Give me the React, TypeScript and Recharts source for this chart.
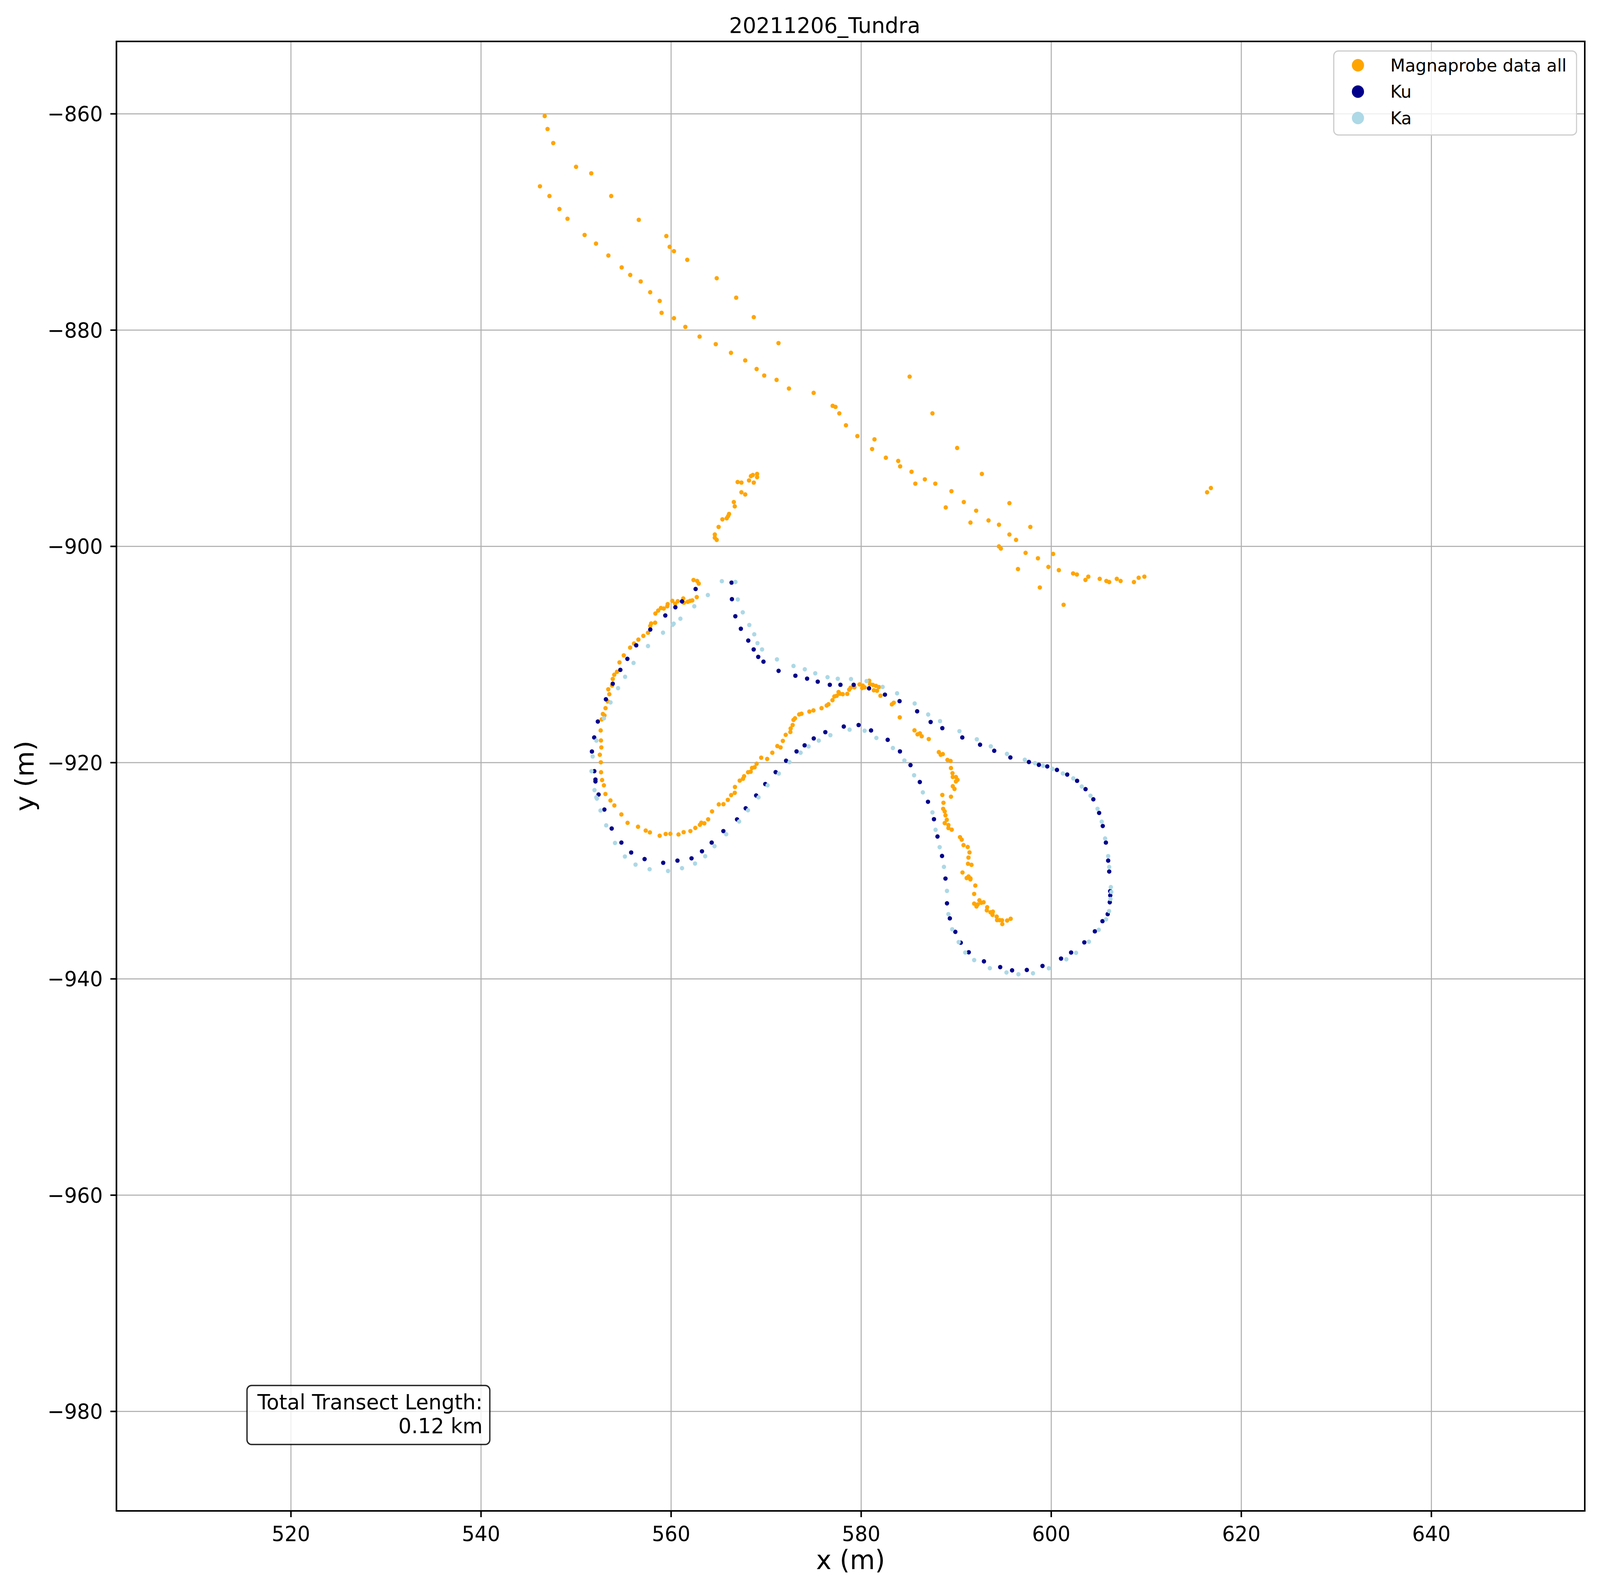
import React from "react";
import {
  CartesianGrid,
  Legend,
  ReferenceArea,
  Scatter,
  ScatterChart,
  XAxis,
  YAxis,
} from "recharts";

// positions, in metres
const MAGNAPROBE: number[][] = [
  // northern pair of lines
  [546.7, -860.2], [547.0, -861.4], [547.6, -862.7], [550.0, -864.9], [551.6, -865.5], [553.7, -867.6],
  [556.6, -869.8], [559.5, -871.3], [559.85, -872.3], [560.3, -872.7], [561.7, -873.5], [564.8, -875.2],
  [566.85, -877.0], [568.7, -878.8], [571.3, -881.2], [585.1, -884.3], [587.5, -887.7], [590.1, -890.9],
  [592.7, -893.3], [595.6, -896.0], [597.8, -898.2], [600.2, -900.7], [601.3, -905.4],
  [546.2, -866.7], [547.2, -867.6], [548.25, -868.8], [549.1, -869.7], [550.9, -871.2], [552.1, -872.0],
  [553.4, -873.1], [554.8, -874.2], [555.7, -874.9], [556.8, -875.5], [557.8, -876.5], [558.8, -877.3],
  [559.0, -878.4], [560.3, -878.9], [561.5, -879.7], [563.0, -880.6], [564.7, -881.3], [566.3, -882.1],
  [567.8, -882.8], [569.0, -883.6], [569.8, -884.2], [571.1, -884.6], [572.4, -885.4], [575.0, -885.8],
  [577.0, -887.0], [577.3, -887.1], [577.7, -887.7], [578.4, -888.8], [579.6, -889.8], [581.4, -890.1],
  [581.15, -891.0], [582.6, -891.8], [583.9, -892.1], [584.1, -892.6], [585.3, -893.1], [585.7, -894.2],
  [586.7, -893.8], [587.8, -894.2], [589.5, -894.9], [588.9, -896.4], [590.8, -895.9], [592.1, -896.7],
  [591.5, -897.8], [593.4, -897.6], [594.5, -898.0], [595.6, -898.9], [596.3, -899.4], [594.5, -900.0],
  [594.7, -900.2], [596.5, -902.1], [597.3, -900.6], [598.6, -901.1], [598.8, -903.8], [599.7, -901.9],
  [600.8, -902.2], [602.3, -902.5], [602.7, -902.6], [603.6, -903.1], [603.9, -902.8], [605.1, -903.0],
  [605.8, -903.2], [606.1, -903.3], [606.9, -903.0], [607.3, -903.2], [608.7, -903.3], [609.2, -902.9],
  [609.8, -902.8], [616.4, -895.0], [616.8, -894.6],
  // short stretch north of the loop
  [564.6, -898.9], [564.6, -899.2], [564.8, -899.4], [565.0, -898.2], [565.4, -897.5], [565.85, -897.4],
  [566.0, -897.2], [566.1, -897.0], [566.6, -895.9], [566.7, -896.3], [567.4, -895.0], [567.8, -895.2],
  [567.0, -894.05], [567.4, -894.1], [568.2, -893.9], [568.7, -894.1], [568.4, -893.5], [568.6, -893.4],
  [569.05, -893.3], [569.05, -893.6],
  // loop and tail
  [562.36, -903.11], [562.74, -903.2], [562.91, -903.44], [562.7, -904.69], [562.23, -905.0], [562.0, -905.04],
  [561.76, -905.12], [561.34, -905.21], [561.28, -904.82], [560.7, -905.07], [560.43, -905.3], [560.13, -905.04],
  [559.64, -905.34], [559.6, -905.54], [559.23, -905.75], [558.93, -905.7], [558.64, -905.94], [558.35, -906.21],
  [558.32, -907.06], [557.9, -907.13], [557.81, -907.36], [557.57, -907.99], [557.08, -908.28], [556.56, -908.62],
  [556.1, -908.98], [555.69, -909.36], [555.02, -910.08], [554.57, -910.73], [554.3, -911.6], [554.02, -911.87],
  [553.86, -912.26], [553.79, -912.87], [553.39, -913.22], [553.5, -913.67], [553.33, -914.34], [553.1, -914.96],
  [552.82, -915.5], [552.99, -915.64], [552.7, -916.0], [552.59, -917.02], [552.62, -917.95], [552.66, -918.59],
  [552.5, -919.27], [552.61, -919.97], [552.63, -920.89], [552.74, -921.61], [552.93, -922.1], [553.09, -922.9],
  [553.62, -923.5], [554.03, -923.96], [554.77, -924.79], [555.42, -925.57], [556.52, -925.93], [557.33, -926.28],
  [557.77, -926.45], [558.8, -926.76], [559.43, -926.6], [559.92, -926.58], [560.78, -926.64], [561.32, -926.43],
  [562.03, -926.33], [562.55, -926.04], [563.03, -925.75], [563.18, -925.56], [563.5, -925.61], [563.9, -925.24],
  [564.31, -924.51], [565.02, -923.86], [565.51, -923.84], [565.97, -923.44], [566.32, -923.0], [566.7, -922.79],
  [566.72, -922.25], [567.22, -921.66], [567.57, -921.49], [567.68, -921.26], [568.1, -920.89], [568.37, -920.84],
  [568.52, -920.49], [568.79, -920.43], [569.0, -920.1], [569.48, -919.54], [570.11, -919.66], [570.65, -919.08],
  [571.18, -918.47], [571.52, -918.59], [571.76, -917.99], [572.06, -917.43], [572.55, -917.17], [572.58, -916.84],
  [572.79, -916.52], [572.88, -916.05], [573.04, -915.9], [573.48, -915.54], [573.72, -915.48], [574.55, -915.28],
  [574.98, -915.17], [575.83, -914.96], [576.37, -914.72], [576.56, -914.6], [576.98, -914.22], [577.18, -913.88],
  [577.42, -913.82], [577.62, -913.47], [577.77, -913.63], [578.06, -913.67], [578.54, -913.64], [578.74, -913.25],
  [578.89, -913.07], [579.29, -913.04], [579.83, -912.77], [580.16, -912.87], [580.11, -913.1], [580.36, -913.04],
  [580.85, -912.42], [580.93, -912.74], [581.23, -912.81], [581.56, -912.9], [581.87, -913.01], [581.33, -913.31],
  [581.67, -913.35], [582.03, -913.81], [583.23, -914.61], [583.43, -914.46], [584.06, -915.81], [585.61, -917.01],
  [585.93, -917.38], [586.18, -917.29], [586.37, -917.56], [587.11, -917.82], [588.17, -919.03], [588.37, -919.27],
  [588.59, -919.21], [589.08, -919.75], [589.41, -919.85], [589.45, -920.5], [589.61, -920.98], [589.64, -921.32],
  [589.97, -921.33], [590.14, -921.59], [589.97, -921.74], [589.64, -922.18], [589.82, -922.43], [588.54, -922.99],
  [589.45, -923.15], [588.66, -923.71], [588.63, -924.27], [588.79, -924.51], [588.87, -924.87], [589.01, -925.29],
  [588.79, -925.59], [589.18, -925.77], [589.18, -926.05], [589.53, -926.2], [590.4, -926.89], [590.58, -927.12],
  [590.77, -927.63], [591.21, -927.8], [591.4, -928.3], [591.29, -928.78], [591.24, -929.35], [591.61, -929.45],
  [590.66, -930.16], [591.3, -930.53], [591.1, -930.67], [591.5, -930.71], [591.49, -930.8], [592.01, -931.37],
  [591.89, -932.14], [592.44, -932.73], [592.64, -932.96], [592.88, -932.91], [591.89, -933.04], [592.26, -933.12],
  [592.13, -933.3], [593.26, -933.37], [593.22, -933.66], [593.61, -933.84], [593.86, -933.78], [593.82, -934.08],
  [594.26, -934.24], [594.3, -934.56], [594.57, -934.56], [594.82, -934.58], [594.85, -934.93], [595.36, -934.6],
  [595.73, -934.44],
];

const KU: number[][] = [
  [562.58, -903.94], [561.15, -905.09], [560.45, -905.63], [559.39, -906.39], [557.81, -907.69], [556.33, -909.15],
  [555.4, -910.4], [554.66, -911.42], [553.86, -912.7], [553.14, -914.14], [552.29, -916.2], [551.91, -917.67],
  [551.67, -918.97], [551.92, -920.79], [552.04, -921.56], [552.04, -921.74], [552.37, -922.95], [552.98, -924.34],
  [553.75, -926.09], [554.77, -927.39], [555.8, -928.31], [557.21, -928.92], [559.17, -929.26], [560.67, -929.06],
  [562.15, -928.85], [563.25, -928.2], [564.27, -927.39], [565.5, -926.33], [566.94, -925.25], [567.85, -924.22],
  [568.95, -923.04], [569.91, -921.98], [571.0, -920.88], [572.1, -919.82], [573.2, -918.96], [574.05, -918.4],
  [575.01, -917.76], [576.23, -917.18], [578.17, -916.66], [579.73, -916.52], [581.04, -917.02], [582.79, -917.89],
  [584.08, -918.96], [585.19, -920.23], [586.17, -921.79], [587.03, -923.62], [587.66, -925.23], [588.03, -926.83],
  [588.51, -928.63], [588.87, -930.72], [589.03, -933.01], [589.33, -934.4], [589.91, -935.65], [590.48, -936.65],
  [591.32, -937.54], [592.92, -938.38], [594.63, -938.91], [595.88, -939.21], [597.43, -939.17], [599.08, -938.8],
  [601.03, -938.12], [602.09, -937.56], [603.48, -936.62], [604.59, -935.6], [605.39, -934.66], [605.94, -934.01],
  [606.16, -932.91], [606.21, -932.28], [606.2, -931.88], [606.1, -930.07], [605.99, -929.06], [605.75, -927.39],
  [605.42, -925.86], [605.04, -924.65], [604.43, -923.39], [603.61, -922.45], [602.72, -921.68], [601.68, -921.1],
  [600.6, -920.67], [599.58, -920.35], [598.7, -920.2], [597.65, -919.94], [595.7, -919.52], [594.0, -918.9],
  [592.51, -918.34], [590.64, -917.67], [588.54, -916.81], [587.31, -916.24], [585.89, -915.25], [584.04, -914.31],
  [582.5, -913.71], [580.83, -913.13], [579.21, -912.8], [577.82, -912.8], [576.7, -912.8], [575.43, -912.51],
  [574.31, -912.23], [573.08, -911.96], [571.31, -911.51], [569.72, -910.66], [569.17, -910.22], [568.69, -909.53],
  [568.12, -908.71], [567.34, -907.62], [566.76, -906.46], [566.4, -904.88], [566.36, -903.35],
];

const KA: number[][] = [
  [565.34, -903.22], [563.87, -904.5], [562.44, -905.54], [560.98, -906.69], [560.27, -907.15], [560.17, -907.25],
  [559.15, -907.98], [557.57, -909.22], [556.05, -910.78], [555.16, -912.06], [554.42, -913.11], [553.63, -914.43],
  [552.93, -915.9], [552.14, -917.96], [551.75, -919.43], [551.62, -920.79], [551.94, -922.54], [552.13, -923.21],
  [552.19, -923.33], [552.57, -924.43], [553.17, -925.8], [554.1, -927.43], [555.14, -928.68], [556.26, -929.43],
  [557.74, -929.86], [559.68, -930.02], [561.15, -929.76], [562.52, -929.33], [563.59, -928.66], [564.57, -927.73],
  [565.8, -926.62], [567.16, -925.44], [568.09, -924.4], [569.2, -923.21], [570.15, -922.1], [571.34, -921.01],
  [572.46, -919.95], [573.63, -919.08], [574.47, -918.5], [575.54, -917.96], [576.76, -917.46], [578.78, -916.95],
  [580.36, -917.05], [581.6, -917.72], [583.34, -918.65], [584.55, -919.8], [585.57, -921.17], [586.49, -922.75],
  [587.5, -924.6], [587.83, -926.21], [588.26, -927.82], [588.71, -929.64], [589.03, -931.86], [589.18, -934.01],
  [589.58, -935.41], [590.26, -936.6], [590.95, -937.56], [591.89, -938.26], [593.54, -939.01], [595.29, -939.41],
  [596.55, -939.57], [598.08, -939.48], [599.75, -939.02], [601.59, -938.19], [602.61, -937.59], [603.97, -936.56],
  [605.0, -935.46], [605.77, -934.49], [606.09, -933.73], [606.23, -932.61], [606.32, -931.96], [606.27, -931.51],
  [606.1, -929.65], [605.99, -928.65], [605.67, -927.01], [605.31, -925.46], [604.87, -924.27], [604.13, -923.06],
  [603.21, -922.21], [602.32, -921.46], [601.22, -921.0], [600.13, -920.57], [599.14, -920.29], [598.29, -920.05],
  [597.22, -919.73], [595.34, -919.19], [593.64, -918.49], [592.17, -917.84], [590.34, -917.09], [588.3, -916.16],
  [587.05, -915.55], [585.63, -914.53], [583.78, -913.59], [582.26, -913.0], [580.57, -912.46], [578.93, -912.27],
  [577.54, -912.24], [576.46, -912.1], [575.17, -911.74], [574.07, -911.37], [572.88, -911.06], [571.14, -910.45],
  [569.57, -909.53], [569.09, -908.95], [568.75, -908.13], [568.23, -907.27], [567.54, -906.1], [567.02, -904.91],
  [566.77, -903.29],
];

const SERIES_NAMES = ["Magnaprobe data all", "Ku", "Ka"];
const X_TICKS = [520, 540, 560, 580, 600, 620, 640];
const Y_TICKS = [-980, -960, -940, -920, -900, -880, -860];
const X_DOMAIN = [501.64, 656.14];
const Y_DOMAIN = [-989.2, -853.3];

const W = 4204;
const H = 4072;
const FONT = "DejaVu Sans";
const DOT_R = 5.7;

const toPoints = (pts: number[][]) => pts.map(([x, y]) => ({ x, y }));
const minus = (v: number) => String(v).replace("-", "\u2212");

const dot = (color: string) => (props: any) =>
  <circle cx={props.cx} cy={props.cy} r={DOT_R} fill={color} />;

function LegendBox({ payload }: any) {
  const items = [...(payload || [])].sort(
    (a: any, b: any) => SERIES_NAMES.indexOf(a.value) - SERIES_NAMES.indexOf(b.value),
  );
  return (
    <svg width={641} height={218} style={{ display: "block" }}>
      <rect x={1.5} y={1.5} width={638} height={215} rx={12} fill="#fff" fillOpacity={0.8}
        stroke="#cccccc" strokeWidth={3} />
      {items.map((entry: any, i: number) => (
        <g key={entry.value}>
          <circle cx={65} cy={38 + 67.5 * i} r={16} fill={entry.color} />
          <text x={150} y={54 + 67.5 * i} fontSize={45} fontFamily={FONT} fill="#000">{entry.value}</text>
        </g>
      ))}
    </svg>
  );
}

export default function App() {
  // the browser viewport can be narrower than the figure: squeeze to fit
  const sx = typeof window !== "undefined" ? Math.min(1, window.innerWidth / W) : 1;
  const sy = typeof window !== "undefined" ? Math.min(1, window.innerHeight / H) : 1;
  return (
    <div style={{
      position: "absolute", left: 0, top: 0, width: W, height: H, background: "#fff",
      transform: `scale(${sx}, ${sy})`, transformOrigin: "0 0",
    }}>
      <ScatterChart width={W} height={H} margin={{ top: 106, right: 40, bottom: 0, left: 0 }}
        style={{ fontFamily: FONT }}>
        <CartesianGrid stroke="#b0b0b0" strokeWidth={2.7} />
        <XAxis type="number" dataKey="x" domain={X_DOMAIN} ticks={X_TICKS} allowDataOverflow height={205}
          tickSize={16} tickMargin={23} tick={{ fontSize: 53, fill: "#000", fontFamily: FONT }}
          axisLine={{ stroke: "#000", strokeWidth: 4 }} tickLine={{ stroke: "#000", strokeWidth: 4 }} />
        <YAxis type="number" dataKey="y" domain={Y_DOMAIN} ticks={Y_TICKS} allowDataOverflow width={306}
          tickSize={16} tickMargin={20} tickFormatter={minus}
          tick={{ fontSize: 53, fill: "#000", fontFamily: FONT }}
          axisLine={{ stroke: "#000", strokeWidth: 4 }} tickLine={{ stroke: "#000", strokeWidth: 4 }} />
        <Scatter name="Magnaprobe data all" data={toPoints(MAGNAPROBE)} fill="#FFA500"
          shape={dot("#FFA500")} isAnimationActive={false} />
        <Scatter name="Ku" data={toPoints(KU)} fill="#00008B" shape={dot("#00008B")} isAnimationActive={false} />
        <Scatter name="Ka" data={toPoints(KA)} fill="#ADD8E6" shape={dot("#ADD8E6")} isAnimationActive={false} />
        <ReferenceArea x1={X_DOMAIN[0]} x2={X_DOMAIN[1]} y1={Y_DOMAIN[0]} y2={Y_DOMAIN[1]} ifOverflow="visible"
          fill="none" fillOpacity={0} stroke="#000" strokeWidth={4} />
        <Legend layout="vertical" align="center" verticalAlign="middle"
          wrapperStyle={{ left: 3503, top: 129, width: 641, height: 218 }}
          content={(props: any) => <LegendBox payload={props.payload} />} />
      </ScatterChart>
      <svg width={W} height={H} style={{ position: "absolute", left: 0, top: 0, pointerEvents: "none" }}>
        <text x={2167} y={84} textAnchor="middle" fontSize={56} fontFamily={FONT}>20211206_Tundra</text>
        <text x={2235} y={4016} textAnchor="middle" fontSize={68} fontFamily={FONT}>x (m)</text>
        <text x={88} y={1986} textAnchor="middle" fontSize={68} fontFamily={FONT}
          transform="rotate(-90 88 1986)">y (m)</text>
        <rect x={649} y={3546} width={638} height={151} rx={12} fill="#fff" fillOpacity={0.8}
          stroke="#000" strokeOpacity={0.85} strokeWidth={3.5} />
        <text x={1268} y={3607} textAnchor="end" fontSize={54} fontFamily={FONT}>Total Transect Length:</text>
        <text x={1268} y={3668} textAnchor="end" fontSize={54} fontFamily={FONT}>0.12 km</text>
      </svg>
    </div>
  );
}
